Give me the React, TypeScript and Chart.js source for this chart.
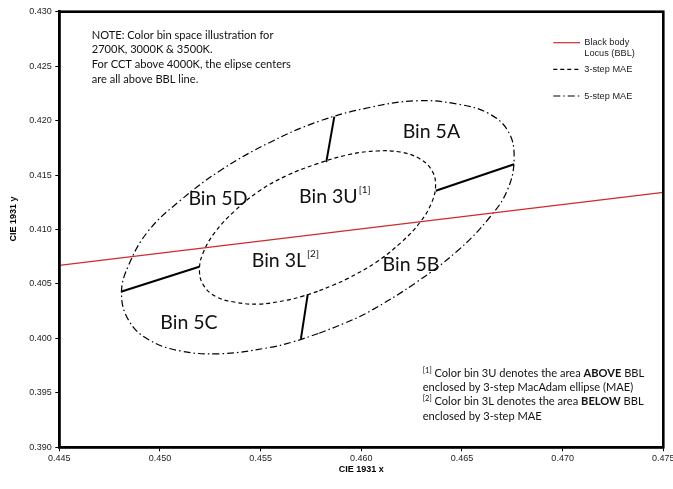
import React, { useEffect, useRef } from 'react';
import { Chart, registerables } from 'chart.js';

Chart.register(...registerables);

// ---- axis ticks ----
const xTickValues = [0.445, 0.45, 0.455, 0.46, 0.465, 0.47, 0.475];
const yTickValues = [0.39, 0.395, 0.4, 0.405, 0.41, 0.415, 0.42, 0.425, 0.43];

// ---- Black body locus ----
const bblX = [0.445, 0.475];
const bblY = [0.4067, 0.4134];

// ---- 3-step MacAdam ellipse ----
const mae3X = [0.45783, 0.45706, 0.45631, 0.45489, 0.45368, 0.45275, 0.45216, 0.45196, 0.45216, 0.45275, 0.45368, 0.45489, 0.45631, 0.45783, 0.45934, 0.46076, 0.46197, 0.4629, 0.46349, 0.46369, 0.46349, 0.4629, 0.46197, 0.46076, 0.45934, 0.45859, 0.45783];
const mae3Y = [0.40432, 0.40386, 0.40351, 0.40315, 0.40334, 0.40387, 0.40489, 0.40628, 0.40793, 0.40979, 0.41165, 0.41349, 0.41496, 0.41605, 0.41686, 0.41721, 0.4171, 0.4165, 0.41547, 0.41409, 0.41244, 0.41062, 0.4088, 0.40702, 0.40551, 0.40488, 0.40432];

// ---- 5-step MacAdam ellipse ----
const mae5X = [0.45787, 0.4566, 0.45535, 0.453, 0.45098, 0.44942, 0.44845, 0.44809, 0.44845, 0.44942, 0.45098, 0.453, 0.45535, 0.45787, 0.4604, 0.46276, 0.46477, 0.46633, 0.4673, 0.46759, 0.46726, 0.46633, 0.46477, 0.46276, 0.4604, 0.45915, 0.45787];
const mae5Y = [0.40045, 0.39968, 0.39913, 0.39859, 0.39886, 0.3999, 0.40164, 0.40417, 0.40675, 0.40986, 0.41262, 0.41542, 0.4179, 0.41992, 0.4212, 0.42182, 0.42152, 0.42065, 0.419, 0.41657, 0.41363, 0.41101, 0.40803, 0.40518, 0.40247, 0.40138, 0.40045];

// ---- bin divider segments ----
const dividerX = [
  [0.45826, 0.45866],
  [0.4637, 0.46759],
  [0.44806, 0.45195],
  [0.45734, 0.457],
];
const dividerY = [
  [0.41618, 0.42036],
  [0.41356, 0.41599],
  [0.40429, 0.40658],
  [0.40405, 0.39995],
];

// ---- text ----
const binLabelTexts = ['Bin 5A', 'Bin 5D', 'Bin 3U', 'Bin 3L', 'Bin 5B', 'Bin 5C'];
const binLabelSups = ['', '', '[1]', '[2]', '', ''];
const noteLines = [
  'NOTE: Color bin space illustration for',
  '2700K, 3000K & 3500K.',
  'For CCT above 4000K, the elipse centers',
  'are all above BBL line.',
];

type Run = { text: string; bold?: boolean; sup?: boolean };
const footLines: Run[][] = [
  [{ text: '[1]', sup: true }, { text: ' Color bin 3U denotes the area ' }, { text: 'ABOVE', bold: true }, { text: ' BBL' }],
  [{ text: 'enclosed by 3-step MacAdam ellipse (MAE)' }],
  [{ text: '[2]', sup: true }, { text: ' Color bin 3L denotes the area ' }, { text: 'BELOW', bold: true }, { text: ' BBL' }],
  [{ text: 'enclosed by 3-step MAE' }],
];

const RED = '#cf2a2f';
const TXT_FONT = 'Lato, "Open Sans", sans-serif';
const AX_FONT = '"Liberation Sans", Arial, sans-serif';
const NOTE_SIZE = 11.1;

// label anchors (data space) for the bin names
const binAnchors = [
  { x: 0.46348, y: 0.41898, align: 'center' },
  { x: 0.45288, y: 0.4128, align: 'center' },
  { x: 0.45691, y: 0.41301, align: 'left' },
  { x: 0.45456, y: 0.40714, align: 'left' },
  { x: 0.46247, y: 0.40674, align: 'center' },
  { x: 0.45144, y: 0.40144, align: 'center' },
];

function drawRuns(ctx: CanvasRenderingContext2D, x: number, y: number, runs: Run[], size: number) {
  let cx = x;
  for (const r of runs) {
    const s = r.sup ? size * 0.68 : size;
    ctx.font = `${r.bold ? 'bold ' : ''}${s}px ${TXT_FONT}`;
    const dy = r.sup ? -size * 0.28 : 0;
    ctx.fillText(r.text, cx, y + dy);
    cx += ctx.measureText(r.text).width;
  }
}

const annotPlugin = {
  id: 'annot',
  afterDraw(chart: any) {
    const { ctx, chartArea: ca, scales } = chart;
    const px = (v: number) => scales.x.getPixelForValue(v);
    const py = (v: number) => scales.y.getPixelForValue(v);
    ctx.save();

    // frame
    ctx.strokeStyle = '#000';
    ctx.lineWidth = 2.6;
    ctx.setLineDash([]);
    ctx.strokeRect(ca.left, ca.top, ca.right - ca.left, ca.bottom - ca.top);

    // y axis title
    ctx.save();
    ctx.translate(13.3, 219);
    ctx.rotate(-Math.PI / 2);
    ctx.font = `bold 9px ${AX_FONT}`;
    ctx.fillStyle = '#000';
    ctx.textAlign = 'center';
    ctx.textBaseline = 'middle';
    ctx.fillText('CIE 1931 y', 0, 0);
    ctx.restore();

    ctx.fillStyle = '#111';
    ctx.textBaseline = 'middle';
    ctx.textAlign = 'left';

    // note block
    ctx.font = `${NOTE_SIZE}px ${TXT_FONT}`;
    noteLines.forEach((t, i) => {
      ctx.fillText(t, px(0.44661), py(0.42786) + i * 14.7);
    });

    // footnotes
    footLines.forEach((runs, i) => {
      drawRuns(ctx, px(0.46305), py(0.3968) + i * 14.3, runs, NOTE_SIZE);
    });

    // bin labels
    binLabelTexts.forEach((t, i) => {
      const a = binAnchors[i];
      ctx.font = `19.5px ${TXT_FONT}`;
      const w = ctx.measureText(t).width;
      const x0 = a.align === 'center' ? px(a.x) - w / 2 : px(a.x);
      ctx.fillText(t, x0, py(a.y));
      if (binLabelSups[i]) {
        ctx.font = `10px ${TXT_FONT}`;
        ctx.fillText(binLabelSups[i], x0 + w + 1, py(a.y) - 7);
      }
    });

    // legend
    const lx0 = ca.right - 110;
    const lx1 = ca.right - 83.3;
    const tx = ca.right - 79;
    const ly = [ca.top + 31, ca.top + 57.6, ca.top + 84.3];
    ctx.lineWidth = 1.2;
    ctx.strokeStyle = RED;
    ctx.beginPath(); ctx.moveTo(lx0, ly[0]); ctx.lineTo(lx1, ly[0]); ctx.stroke();
    ctx.strokeStyle = '#000';
    ctx.setLineDash([4, 3]);
    ctx.beginPath(); ctx.moveTo(lx0, ly[1]); ctx.lineTo(lx1, ly[1]); ctx.stroke();
    ctx.setLineDash([7, 3, 1.5, 3]);
    ctx.beginPath(); ctx.moveTo(lx0, ly[2]); ctx.lineTo(lx1, ly[2]); ctx.stroke();
    ctx.setLineDash([]);
    ctx.fillStyle = '#222';
    ctx.font = `9.2px ${AX_FONT}`;
    ctx.fillText('Black body', tx, ly[0]);
    ctx.fillText('Locus (BBL)', tx, ly[0] + 10.6);
    ctx.fillText('3-step MAE', tx, ly[1]);
    ctx.fillText('5-step MAE', tx, ly[2]);

    ctx.restore();
  },
};

const toPts = (xs: number[], ys: number[]) => xs.map((x, i) => ({ x, y: ys[i] }));

export default function App() {
  const ref = useRef<HTMLCanvasElement | null>(null);
  useEffect(() => {
    if (!ref.current) return;
    const datasets: any[] = [
      {
        label: 'Black body Locus (BBL)',
        data: toPts(bblX, bblY),
        showLine: true,
        borderColor: RED,
        borderWidth: 1.3,
        pointRadius: 0,
      },
      {
        label: '3-step MAE',
        data: toPts(mae3X, mae3Y),
        showLine: true,
        borderColor: '#000',
        borderWidth: 1.2,
        borderDash: [4, 3],
        pointRadius: 0,
        tension: 0.4,
      },
      {
        label: '5-step MAE',
        data: toPts(mae5X, mae5Y),
        showLine: true,
        borderColor: '#000',
        borderWidth: 1.2,
        borderDash: [7, 3, 1.5, 3],
        pointRadius: 0,
        tension: 0.4,
      },
      ...dividerX.map((xs, i) => ({
        label: 'divider' + i,
        data: toPts(xs, dividerY[i]),
        showLine: true,
        borderColor: '#000',
        borderWidth: 2,
        pointRadius: 0,
      })),
    ];
    const chart = new Chart(ref.current, {
      type: 'scatter',
      data: { datasets },
      options: {
        responsive: false,
        animation: false,
        layout: { padding: { left: 0, top: 11.7, right: 9.7, bottom: 0 } },
        plugins: { legend: { display: false }, tooltip: { enabled: false } },
        scales: {
          x: {
            type: 'linear',
            min: 0.445,
            max: 0.475,
            afterBuildTicks: (s: any) => {
              s.ticks = xTickValues.map((v) => ({ value: v }));
            },
            ticks: {
              callback: (v: any) => Number(v).toFixed(3),
              font: { family: AX_FONT, size: 9 },
              color: '#222',
              padding: 2.3,
              maxRotation: 0,
              autoSkip: false,
            },
            grid: { drawOnChartArea: false, drawTicks: true, tickLength: 4, tickColor: '#000', color: '#000' },
            border: { display: true, color: '#000', width: 2.5 },
            title: {
              display: true,
              text: 'CIE 1931 x',
              font: { family: AX_FONT, size: 9, weight: 'bold' },
              color: '#000',
              padding: { top: 0, bottom: 13.6 },
            },
            afterFit: (s: any) => {
              s.height = 41.7;
              s.paddingLeft = 0;
              s.paddingRight = 0;
            },
          },
          y: {
            type: 'linear',
            min: 0.39,
            max: 0.43,
            afterBuildTicks: (s: any) => {
              s.ticks = yTickValues.map((v) => ({ value: v }));
            },
            ticks: {
              callback: (v: any) => Number(v).toFixed(3),
              font: { family: AX_FONT, size: 9 },
              color: '#222',
              padding: 3.6,
              autoSkip: false,
            },
            grid: { drawOnChartArea: false, drawTicks: true, tickLength: 4, tickColor: '#000', color: '#000' },
            border: { display: true, color: '#000', width: 2.5 },
            title: { display: false },
            afterFit: (s: any) => {
              s.width = 59.3;
              s.paddingTop = 0;
              s.paddingBottom = 0;
            },
          },
        },
      } as any,
      plugins: [annotPlugin],
    });
    return () => chart.destroy();
  }, []);
  return (
    <div style={{ position: 'absolute', left: 0, top: 0, width: 673, height: 489, background: '#fff' }}>
      <canvas ref={ref} width={673} height={489} />
    </div>
  );
}
